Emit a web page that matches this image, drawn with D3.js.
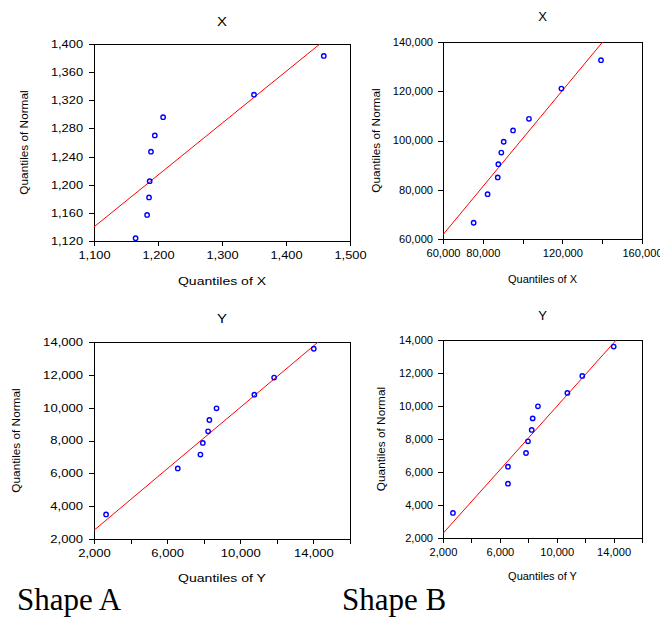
<!DOCTYPE html>
<html>
<head>
<meta charset="utf-8">
<script src="https://cdn.jsdelivr.net/npm/d3@7"></script>
<style>
  body { margin: 0; background: #fff; }
  svg { display: block; }
  text { font-family: "Liberation Sans", Arial, sans-serif; fill: #000; }
</style>
</head>
<body>
<svg id="chart" width="660" height="617"></svg>
<script>
// --- data ---
// panel X, shape A
var xA_sample = [1165, 1183, 1186, 1187, 1189, 1195, 1208, 1350, 1459];
var xA_normal = [1124, 1157, 1182, 1205, 1247, 1270, 1296, 1328, 1383];
var xA_line = [[1100, 1140], [1453, 1400]];
var xA_xticks = [1100, 1200, 1300, 1400, 1500];
var xA_yticks = [1120, 1160, 1200, 1240, 1280, 1320, 1360, 1400];

// panel X, shape B
var xB_sample = [75400, 82400, 87500, 87800, 89300, 90500, 95200, 103200, 119500, 139400];
var xB_normal = [66600, 78200, 85000, 90400, 95100, 99500, 104100, 108800, 121100, 132600];
var xB_line = [[60000, 61750], [140200, 140000]];
var xB_xticks = [60000, 80000, 100000, 120000, 140000, 160000];
var xB_xlabels = [60000, 80000, 120000, 160000];
var xB_yticks = [60000, 80000, 100000, 120000, 140000];

// panel Y, shape A
var yA_sample = [2660, 6580, 7820, 7950, 8240, 8310, 8700, 10770, 11850, 14020];
var yA_normal = [3500, 6300, 7140, 7850, 8560, 9250, 9960, 10790, 11830, 13590];
var yA_line = [[2000, 2530], [14260, 14000]];

// panel Y, shape B
var yB_sample = [2700, 6570, 6570, 7840, 7980, 8240, 8310, 8680, 10750, 11800, 14010];
var yB_normal = [3520, 5290, 6320, 7150, 7860, 8550, 9250, 9980, 10790, 11820, 13600];
var yB_line = [[2000, 2280], [14190, 14000]];

var y_xticks = [2000, 4000, 6000, 8000, 10000, 12000, 14000, 16000];
var y_xlabels = [2000, 6000, 10000, 14000];
var y_yticks = [2000, 4000, 6000, 8000, 10000, 12000, 14000];

var fmt = d3.format(",");
var svg = d3.select("#chart");

var panels = [
  { id: "p1", left: 94, right: 350, top: 44, bottom: 241,
    xDomain: [1100, 1500], yDomain: [1120, 1400],
    xt: xA_xticks, xl: xA_xticks, yt: xA_yticks,
    xs: xA_sample, ys: xA_normal, line: xA_line,
    title: "X", titleY: 26, xlab: "Quantiles of X", xlabY: 285, ylabX: 27.5,
    sx: 1.2, tsx: 1.15, lsx: 1.2, pad: 6 },
  { id: "p2", left: 443, right: 642, top: 42, bottom: 239,
    xDomain: [60000, 160000], yDomain: [60000, 140000],
    xt: xB_xticks, xl: xB_xlabels, yt: xB_yticks,
    xs: xB_sample, ys: xB_normal, line: xB_line,
    title: "X", titleY: 21, xlab: "Quantiles of X", xlabY: 282.5, ylabX: 379.5,
    sx: 1.04, tsx: 1, lsx: 0.94, pad: 5 },
  { id: "p3", left: 94, right: 350, top: 342, bottom: 539,
    xDomain: [2000, 16000], yDomain: [2000, 14000],
    xt: y_xticks, xl: y_xlabels, yt: y_yticks,
    xs: yA_sample, ys: yA_normal, line: yA_line,
    title: "Y", titleY: 323, xlab: "Quantiles of Y", xlabY: 582, ylabX: 19.5,
    sx: 1.22, tsx: 1.15, lsx: 1.2, pad: 6 },
  { id: "p4", left: 443, right: 642, top: 340, bottom: 538,
    xDomain: [2000, 16000], yDomain: [2000, 14000],
    xt: y_xticks, xl: y_xlabels, yt: y_yticks,
    xs: yB_sample, ys: yB_normal, line: yB_line,
    title: "Y", titleY: 320, xlab: "Quantiles of Y", xlabY: 580, ylabX: 384.5,
    sx: 1.04, tsx: 1, lsx: 0.94, pad: 5 }
];

panels.forEach(function(p) {
  var x = d3.scaleLinear().domain(p.xDomain).range([p.left, p.right]);
  var y = d3.scaleLinear().domain(p.yDomain).range([p.bottom, p.top]);
  var cx = (p.left + p.right) / 2, cy = (p.top + p.bottom) / 2;
  var g = svg.append("g");

  g.append("clipPath").attr("id", "clip-" + p.id)
    .append("rect")
    .attr("x", p.left).attr("y", p.top)
    .attr("width", p.right - p.left).attr("height", p.bottom - p.top);

  // axes
  var xAxis = d3.axisBottom(x).tickValues(p.xt).tickSize(5).tickPadding(5)
    .tickFormat(function(d) { return p.xl.indexOf(d) >= 0 ? fmt(d) : ""; });
  var yAxis = d3.axisLeft(y).tickValues(p.yt).tickSize(5).tickPadding(p.pad)
    .tickFormat(fmt);

  var gx = g.append("g").attr("transform", "translate(0," + p.bottom + ")").call(xAxis);
  var gy = g.append("g").attr("transform", "translate(" + p.left + ",0)").call(yAxis);
  [gx, gy].forEach(function(a) {
    a.select(".domain").remove();
    a.selectAll("line").attr("stroke", "#000").attr("shape-rendering", "crispEdges");
    a.selectAll("text")
      .style("font-size", "10.7px")
      .attr("fill", "#000")
      .attr("x", function() { return +d3.select(this).attr("x") / p.sx; })
      .attr("transform", "scale(" + p.sx + ",1)");
  });

  // box
  g.append("rect")
    .attr("x", p.left).attr("y", p.top)
    .attr("width", p.right - p.left).attr("height", p.bottom - p.top)
    .attr("fill", "none").attr("stroke", "#000").attr("stroke-width", 1)
    .attr("shape-rendering", "crispEdges");

  // reference line
  g.append("path")
    .attr("clip-path", "url(#clip-" + p.id + ")")
    .attr("d", d3.line().x(function(d) { return x(d[0]); }).y(function(d) { return y(d[1]); })(p.line))
    .attr("fill", "none").attr("stroke", "#ff0000").attr("stroke-width", 1);

  // points
  g.selectAll("circle.pt").data(p.xs).enter().append("circle")
    .attr("class", "pt")
    .attr("cx", function(d) { return x(d); })
    .attr("cy", function(d, i) { return y(p.ys[i]); })
    .attr("r", 2.2)
    .attr("fill", "none").attr("stroke", "#0000ff").attr("stroke-width", 1.4);

  // titles
  g.append("text")
    .attr("transform", "translate(" + cx + "," + p.titleY + ") scale(" + p.tsx + ",1)")
    .attr("text-anchor", "middle").style("font-size", "13px").text(p.title);
  g.append("text")
    .attr("transform", "translate(" + cx + "," + p.xlabY + ") scale(" + p.lsx + ",1)")
    .attr("text-anchor", "middle").style("font-size", "11.7px").text(p.xlab);
  g.append("text")
    .attr("transform", "translate(" + p.ylabX + "," + cy + ") rotate(-90)")
    .attr("text-anchor", "middle").style("font-size", "11.8px").text("Quantiles of Normal");
});

svg.append("text").attr("x", 17).attr("y", 610)
  .style("font-family", "'Liberation Serif', 'Times New Roman', serif")
  .style("font-size", "31px").text("Shape A");
svg.append("text").attr("x", 342).attr("y", 610)
  .style("font-family", "'Liberation Serif', 'Times New Roman', serif")
  .style("font-size", "31px").text("Shape B");
</script>
</body>
</html>
